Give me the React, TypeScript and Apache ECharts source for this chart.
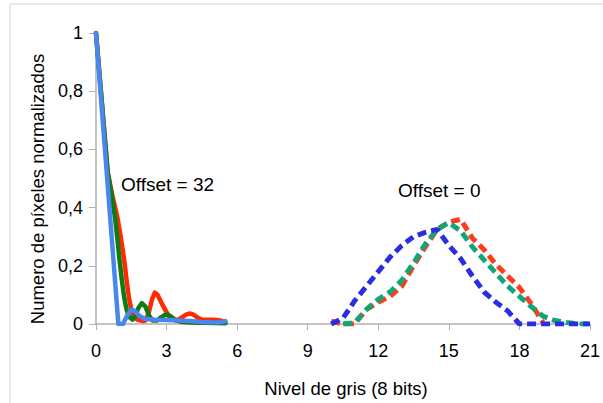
import React, { useEffect, useRef } from "react";
import * as echarts from "echarts";

const xTicks = [0, 3, 6, 9, 12, 15, 18, 21];
const yTicks = [0, 0.2, 0.4, 0.6, 0.8, 1];

const redX = [0, 0.5, 0.7, 0.9, 1.05, 1.2, 1.3, 1.4, 1.5, 1.6, 1.75, 2.0, 2.1, 2.25, 2.38, 2.5, 2.62, 2.8, 3.0, 3.15, 3.3, 3.5, 3.7, 3.85, 4.0, 4.15, 4.35, 4.5, 5.0, 5.3, 5.5];
const redY = [1, 0.52, 0.44, 0.37, 0.3, 0.22, 0.15, 0.09, 0.05, 0.025, 0.015, 0.01, 0.012, 0.04, 0.085, 0.108, 0.1, 0.07, 0.04, 0.022, 0.015, 0.015, 0.025, 0.033, 0.036, 0.032, 0.02, 0.015, 0.015, 0.012, 0.006];
const greenX = [0, 0.5, 0.65, 0.8, 0.9, 1.0, 1.1, 1.2, 1.3, 1.4, 1.55, 1.65, 1.8, 1.95, 2.1, 2.25, 2.4, 2.6, 2.75, 2.9, 3.05, 3.2, 3.4, 3.6, 4.0, 5.5];
const greenY = [1, 0.52, 0.45, 0.37, 0.3, 0.22, 0.15, 0.09, 0.05, 0.025, 0.015, 0.025, 0.055, 0.072, 0.06, 0.03, 0.012, 0.012, 0.022, 0.03, 0.032, 0.025, 0.012, 0.008, 0.005, 0.003];
const blueX = [0, 0.95, 1.15, 1.3, 1.45, 1.55, 1.7, 1.85, 2.05, 2.5, 3.0, 3.5, 4.0, 4.5, 5.0, 5.3, 5.5];
const blueY = [1, 0, 0, 0.025, 0.045, 0.05, 0.04, 0.028, 0.018, 0.015, 0.014, 0.012, 0.01, 0.007, 0.005, 0.006, 0.01];

const dashX = [10, 10.5, 11, 11.5, 12, 12.5, 13, 13.5, 14, 14.5, 15, 15.5, 16, 16.5, 17, 17.5, 18, 18.5, 19, 19.5, 20, 20.5, 21];
const dashRed = [0.01, 0, 0, 0.05, 0.075, 0.095, 0.13, 0.2, 0.265, 0.325, 0.35, 0.36, 0.295, 0.255, 0.205, 0.165, 0.125, 0.07, 0.005, null, null, null, null];
const dashGreen = [null, 0, 0.005, 0.05, 0.085, 0.11, 0.15, 0.21, 0.275, 0.325, 0.348, 0.32, 0.265, 0.22, 0.175, 0.13, 0.095, 0.06, 0.027, 0.012, 0.005, 0, 0];
const dashBlue = [0, 0.02, 0.08, 0.13, 0.18, 0.23, 0.27, 0.3, 0.315, 0.325, 0.27, 0.225, 0.165, 0.11, 0.075, 0.045, 0, 0, 0, 0, 0, 0, 0];

const pairs = (xs: number[], ys: (number | null)[]) =>
  xs.map((x, i) => [x, ys[i]]).filter((p) => p[1] !== null);

const FONT = "'Liberation Sans', Arial, Helvetica, sans-serif";

export default function App() {
  const ref = useRef<HTMLDivElement>(null);
  useEffect(() => {
    if (!ref.current) return;
    const chart = echarts.init(ref.current, null, { renderer: "svg" });
    const solid = (name: string, xs: number[], ys: number[], color: string) => ({
      name,
      type: "line",
      data: pairs(xs, ys),
      smooth: false,
      showSymbol: false,
      symbol: "none",
      lineStyle: { color, width: 4.5, join: "round", cap: "round" },
    });
    const dashed = (name: string, ys: (number | null)[], color: string) => ({
      name,
      type: "line",
      data: pairs(dashX, ys),
      smooth: false,
      showSymbol: false,
      symbol: "none",
      lineStyle: { color, width: 5, type: [9, 5] },
    });
    const label = (text: string, x: number, y: number, size: number, extra: any = {}) => ({
      type: "text",
      x,
      y,
      ...extra,
      style: {
        text,
        fontSize: size,
        fontFamily: FONT,
        fill: "#000",
        align: extra.align || "center",
        verticalAlign: "middle",
      },
    });
    chart.setOption({
      animation: false,
      backgroundColor: "#ffffff",
      grid: { left: 96, right: 3, top: 33, bottom: 79, containLabel: false },
      xAxis: {
        type: "value",
        min: 0,
        max: 21,
        interval: 3,
        axisLine: { show: true, lineStyle: { color: "#b0b0b0", width: 1.5 } },
        axisTick: { show: true, length: 6, lineStyle: { color: "#b0b0b0" } },
        splitLine: { show: false },
        axisLabel: {
          color: "#000",
          fontSize: 18,
          fontFamily: FONT,
          margin: 18,
          showMaxLabel: true,
          formatter: (v: number) => (xTicks.includes(v) ? String(v) : ""),
        },
      },
      yAxis: {
        type: "value",
        min: 0,
        max: 1,
        interval: 0.2,
        axisLine: { show: true, lineStyle: { color: "#b0b0b0", width: 1.5 } },
        axisTick: { show: true, length: 7, lineStyle: { color: "#b0b0b0" } },
        splitLine: { show: false },
        axisLabel: {
          color: "#000",
          fontSize: 18,
          fontFamily: FONT,
          margin: 13,
          formatter: (v: number) => {
            const t = yTicks.find((y) => Math.abs(y - v) < 1e-9);
            return t === undefined ? "" : String(Math.round(t * 10) / 10).replace(".", ",");
          },
        },
      },
      graphic: [
        {
          type: "rect",
          shape: { x: 10, y: 4, width: 620, height: 420 },
          style: { fill: "none", stroke: "#d4d4d4", lineWidth: 1 },
          silent: true,
          z: -10,
        },
        label("Nivel de gris (8 bits)", 346, 388, 18.5),
        label("Numero de píxeles normalizados", 37, 189, 18.5, { rotation: Math.PI / 2 }),
        label("Offset = 32", 121, 184, 19, { align: "left" }),
        label("Offset = 0", 398, 190, 19, { align: "left" }),
      ],
      series: [
        dashed("dashRed", dashRed, "#ff3b1f"),
        dashed("dashGreen", dashGreen, "#12a676"),
        dashed("dashBlue", dashBlue, "#2b2ee0"),
        solid("red", redX, redY, "#ff2a00"),
        solid("green", greenX, greenY, "#0b7d12"),
        solid("blue", blueX, blueY, "#4a86f0"),
      ],
    });
    return () => chart.dispose();
  }, []);
  return (
    <div
      ref={ref}
      style={{ position: "fixed", left: 0, top: 0, width: 603, height: 403, background: "#fff" }}
    />
  );
}
